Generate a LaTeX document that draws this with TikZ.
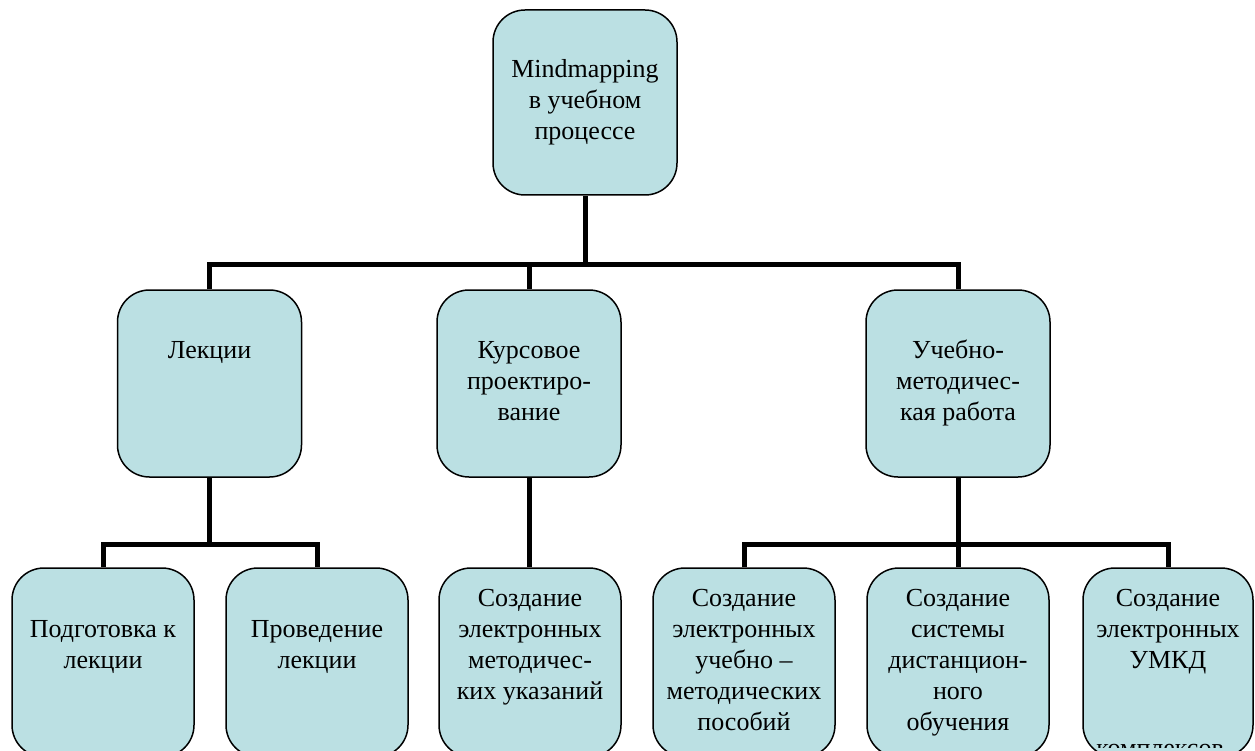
\documentclass[tikz,border=0pt]{standalone}
\usepackage{fontspec}
\setmainfont{Liberation Serif}
\usetikzlibrary{backgrounds}
\definecolor{boxfill}{RGB}{187,224,227}
\begin{document}
\begin{tikzpicture}[x=1pt,y=-1pt,
  box/.style={draw=black, line width=1.5pt, fill=boxfill, rounded corners=32pt,
              align=center, inner sep=0pt, font=\fontsize{26}{31}\selectfont},
  rootbox/.style={box, minimum width=184pt, minimum height=185pt},
  midbox/.style={box, minimum width=184pt, minimum height=187pt},
  leafbox/.style={box, minimum width=182pt, minimum height=189pt},
  conn/.style={draw=black, line width=5pt, line join=miter},
  tailtext/.style={font=\fontsize{26}{31}\selectfont, inner sep=0pt, anchor=base}]
\useasboundingbox (0,0) rectangle (1255,751);

% root of the map
\node[rootbox] (root) at (585,102.5) {\strut Mindmapping\\в учебном\\процессе\strut};

% second level
\node[midbox] (lek)  at (209.5,383.5) {\strut Лекции\\\strut\\\strut};
\node[midbox] (kurs) at (529,383.5)   {\strut Курсовое\\проектиро-\\вание\strut};
\node[midbox] (uch)  at (958,383.5)   {\strut Учебно-\\методичес-\\кая работа\strut};

% leaves
\node[leafbox] (l1) at (103,662.5) {\strut\\Подготовка к\\лекции\\\strut\\\strut};
\node[leafbox] (l2) at (317,662.5) {\strut\\Проведение\\лекции\\\strut\\\strut};
\node[leafbox] (l3) at (530,662.5) {\strut Создание\\электронных\\методичес-\\ких указаний\\\strut};
\node[leafbox] (l4) at (744,662.5) {\strut Создание\\электронных\\учебно –\\методических\\пособий\strut};
\node[leafbox] (l5) at (958,662.5) {\strut Создание\\системы\\дистанцион-\\ного\\обучения\strut};
\node[leafbox, minimum width=170pt] (l6) at (1168,662.5) {\strut Создание\\электронных\\УМКД\\\strut\\\strut};

% overflowing last line of the УМКД box, cut off by the box edge
\begin{scope}
  \clip (1085,738) rectangle (1250,747.5);
  \node[tailtext] (l6tail) at (1160,756) {комплексов};
\end{scope}

% junction levels of the connector bars
\coordinate (topbar) at (583,265);
\coordinate (lbar)   at (210,544);
\coordinate (rbar)   at (958,544);

\begin{scope}[on background layer]
  \draw[conn] (root.south) -- (root.south |- topbar);
  \draw[conn] (lek.north) |- (uch.north |- topbar) -- (uch.north);
  \draw[conn] (kurs.north) -- (kurs.north |- topbar);

  \draw[conn] (lek.south) -- (lek.south |- lbar);
  \draw[conn] (l1.north) |- (l2.north |- lbar) -- (l2.north);

  \draw[conn] (kurs.south) -- (kurs.south |- l3.north);

  \draw[conn] (uch.south) -- (uch.south |- rbar);
  \draw[conn] (l4.north) |- (l6.north |- rbar) -- (l6.north);
  \draw[conn] (l5.north) -- (l5.north |- rbar);
\end{scope}
\end{tikzpicture}
\end{document}
